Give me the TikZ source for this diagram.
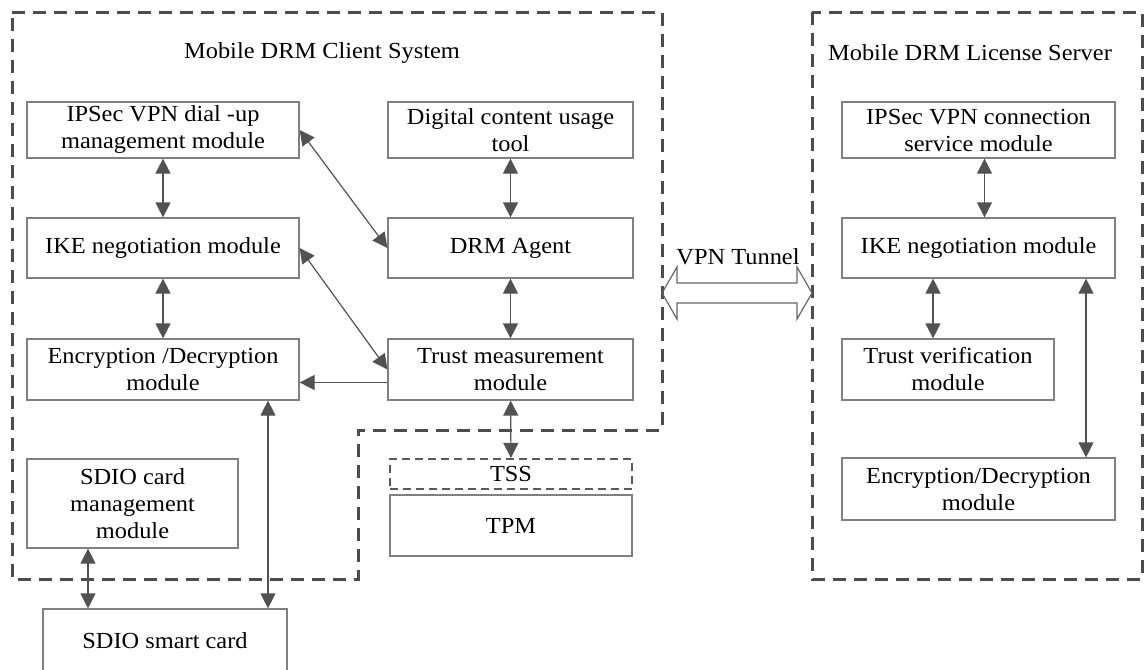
\documentclass[tikz,border=0pt]{standalone}
\usepackage{fontspec}
\setmainfont{Liberation Serif}[FakeStretch=1.06]
\usetikzlibrary{%
	positioning,
	calc,
	arrows.meta
}

\begin{document}
\begin{tikzpicture}[x=0.5pt,y=-0.5pt,
		SModule/.style={draw=black!50,shape=rectangle,align=center,font=\fontsize{11.5}{13.5}\selectfont,inner sep=1pt,line width=0.6pt},
		STitle/.style={font=\fontsize{11.5}{13.5}\selectfont,inner sep=.5pt},
		outside/.style={draw=black!70,line width=1.5pt,dash pattern=on 6.5pt off 4pt},
		inside/.style={draw=black!65,line width=1.1pt,dash pattern=on 4pt off 2.5pt},
		link/.style={draw=black!68,line width=0.6pt,{Triangle[length=7.5pt,width=7.5pt]}-{Triangle[length=7.5pt,width=7.5pt]}}
	]
	\clip (0,0) rectangle (1144,669);
	
	%borders
	\draw [outside] (12,12) -- (662,12) -- (662,430) -- (358,430) -- (358,579) -- (12,579) -- cycle;
	\draw [outside] (812,12) rectangle (1142,579);
	\node (client) [STitle] at (322,53) {Mobile DRM Client System};
	\node (server) [STitle] at (970,53) {Mobile DRM License Server};
	
	%client
	\node (dialup) [SModule, minimum width=136pt, minimum height=28pt] at (163,130) {IPSec VPN dial -up\\management module};
	\node (usage) [SModule, minimum width=122.5pt, minimum height=28pt] at (510.5,130) {Digital content usage\\tool};
	\node (ikeC) [SModule, minimum width=136pt, minimum height=30pt] at (163,248) {IKE negotiation module};
	\node (agent) [SModule, minimum width=122.5pt, minimum height=30pt] at (510.5,248) {DRM Agent};
	\node (cryptC) [SModule, minimum width=136pt, minimum height=30.5pt] at (163,369.5) {Encryption /Decryption\\module};
	\node (trust) [SModule, minimum width=122.5pt, minimum height=30.5pt] at (510.5,369.5) {Trust measurement\\module};
	\node (sdioMgmt) [SModule, minimum width=105.5pt, minimum height=44.5pt] at (132.5,503.5) {SDIO card\\management\\module};
	\node (tss) [SModule, inside, minimum width=121pt, minimum height=15pt] at (511,474) {TSS};
	\node (tpm) [SModule, minimum width=121pt, minimum height=30.5pt] at (511,525.5) {TPM};
	\node (card) [SModule, minimum width=122pt, minimum height=32pt] at (165,641) {SDIO smart card};
	
	\draw [link] (dialup) -- (ikeC);
	\draw [link] (ikeC) -- (cryptC);
	\draw [link] (usage) -- (agent);
	\draw [link] (agent) -- (trust);
	\draw [link] (trust) -- (tss);
	\draw [link] (dialup.east) -- (agent.west);
	\draw [link] (ikeC.east) -- (trust.west);
	\draw [link, {Triangle[length=7.5pt,width=7.5pt]}-] ([yshift=-6.5pt]cryptC.east) -- ([yshift=-6.5pt]trust.west);
	\draw [link] ([xshift=52.5pt]cryptC.south) -- ([xshift=52.5pt]cryptC.south |- card.north);
	\draw [link] ([xshift=-22.25pt]sdioMgmt.south) -- ([xshift=-22.25pt]sdioMgmt.south |- card.north);
	
	%server
	\node (vpnS) [SModule, minimum width=136.5pt, minimum height=28pt] at (978.5,130) {IPSec VPN connection\\service module};
	\node (ikeS) [SModule, minimum width=136.5pt, minimum height=30pt] at (978.5,248) {IKE negotiation module};
	\node (verif) [SModule, minimum width=106pt, minimum height=30.5pt] at (948,369.5) {Trust verification\\module};
	\node (cryptS) [SModule, minimum width=136.5pt, minimum height=31pt] at (978.5,489) {Encryption/Decryption\\module};
	
	\draw [link] ([xshift=3pt]vpnS.south) -- ([xshift=3pt]vpnS.south |- ikeS.north);
	\draw [link] ([xshift=-7.5pt]verif.north) -- ([xshift=-7.5pt]verif.north |- ikeS.south);
	\draw [link] ([xshift=53.75pt]ikeS.south) -- ([xshift=53.75pt]ikeS.south |- cryptS.north);
	
	%tunnel
	\coordinate (tunL) at (662,293);
	\coordinate (tunR) at (812,293);
	\draw [draw=black!60, line width=0.6pt] (tunL) -- ++(15,-26) -- ++(0,16) -- ($(tunR)+(-15,-10)$) -- ++(0,-16) -- (tunR) -- ++(-15,26) -- ++(0,-16) -- ($(tunL)+(15,10)$) -- ++(0,16) -- cycle;
	\node (tunnel) [STitle] at (738,257) {VPN Tunnel};
	
\end{tikzpicture}
\end{document}
